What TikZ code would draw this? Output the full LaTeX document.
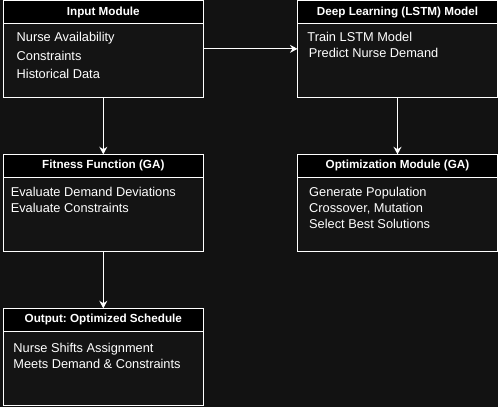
\documentclass[tikz,border=0pt]{standalone}
\usepackage{fontspec}
\setmainfont{Liberation Sans}
\usetikzlibrary{arrows.meta}
\frenchspacing

\definecolor{canvas}{HTML}{121212}
\definecolor{panel}{HTML}{141414}

\begin{document}
\begin{tikzpicture}[
  x=1pt, y=-1pt,
  >={Stealth[length=7.5pt, width=8pt]},
  module/.style={draw=white, line width=1pt, fill=panel,
                 minimum width=200pt, minimum height=96.7pt,
                 inner sep=0pt, outer sep=0pt},
  header/.style={draw=white, line width=1pt, fill=black, text=white,
                 minimum width=200pt, minimum height=23.3pt,
                 inner sep=0pt, outer sep=0pt,
                 font=\fontsize{11.7}{14}\selectfont\bfseries},
  items/.style={text=white, align=left, inner sep=0pt, anchor=north west,
                font=\fontsize{12.8}{15.8}\selectfont},
  link/.style={->, white, line width=1pt},
]
% Pixel grid: x to the right, y downwards, 1pt = 1px

% --- Background ---
\fill[canvas] (0,0) rectangle (498,407);
\useasboundingbox (0,0) rectangle (498,407);

% --- Modules ---
\node[module] (input)    at (103.3, 48.85)  {};
\node[module] (lstm)     at (397.5, 48.85)  {};
\node[module] (fitness)  at (103.3, 202.65) {};
\node[module] (optimize) at (397.5, 202.65) {};
\node[module] (output)   at (103.3, 356.65) {};

% --- Header bars ---
\foreach \m/\title in {input/Input Module,
                       lstm/Deep Learning (LSTM) Model,
                       fitness/Fitness Function (GA),
                       optimize/Optimization Module (GA),
                       output/Output: Optimized Schedule}
  \node[header, anchor=north] (\m head) at (\m.north) {\title};

% --- Contents ---
\node[items, font=\fontsize{12.8}{18.6}\selectfont] (inputtext) at (16.5, 32)
  {Nurse Availability\\Constraints\\Historical Data};
\node[items] (lstmtext) at (307.2, 32)
  {Train LSTM Model\\\hspace*{1.5pt}Predict Nurse Demand};
\node[items] (fitnesstext) at (10.6, 187)
  {Evaluate Demand Deviations\\Evaluate Constraints};
\node[items] (optimizetext) at (309, 187)
  {Generate Population\\Crossover, Mutation\\Select Best Solutions};
\node[items] (outputtext) at (13.2, 342.8)
  {Nurse Shifts Assignment\\Meets Demand \& Constraints};

% --- Flow ---
\draw[link] (input.east)   -- (lstm.west);
\draw[link] (input.south)  -- (fitness.north);
\draw[link] (lstm.south)   -- (optimize.north);
\draw[link] (fitness.south) -- (output.north);

\end{tikzpicture}
\end{document}
